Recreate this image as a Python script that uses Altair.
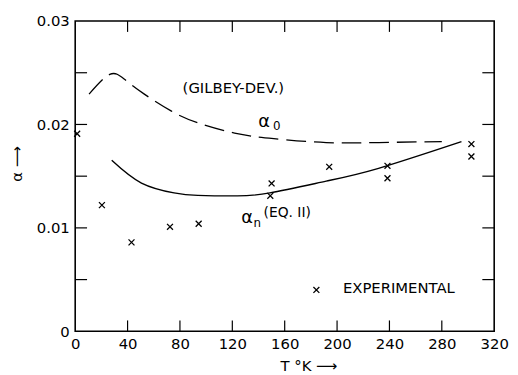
import altair as alt
import pandas as pd

# Dashed curve alpha_0 (Gilbey-Dev.)
a0_T = [10.6, 26.4, 37.7, 52.8, 73.2, 93.6, 123.8, 151.7, 191.7, 231.7, 280]
a0_v = [0.02293, 0.02484, 0.02436, 0.02293, 0.02131, 0.02016, 0.01911, 0.01863, 0.01825, 0.01825, 0.01834]

# Solid curve alpha_n (Eq. II)
an_T = [27.9, 50.6, 75.5, 93.6, 123.8, 148.7, 191.7, 231.7, 295]
an_v = [0.01653, 0.01433, 0.01338, 0.01314, 0.01309, 0.01338, 0.01452, 0.01576, 0.01834]

# Experimental points
ex_T = [1.5, 20.4, 43, 72.4, 94.3, 150, 149, 194, 238.5, 238.5, 302.6, 302.6]
ex_v = [0.0191, 0.0122, 0.0086, 0.0101, 0.0104, 0.0143, 0.0131, 0.0159, 0.0160, 0.0148, 0.0181, 0.0169]

# Legend sample marker
leg_T = [184.2]
leg_v = [0.0040]

# Annotation texts
ann_text = ["(GILBEY-DEV.)", "α", "0", "α", "n", "(EQ. II)", "EXPERIMENTAL"]
ann_T = [120.8, 144.2, 154.0, 131.3, 139.0, 161.9, 247.2]
ann_v = [0.0235, 0.02025, 0.01985, 0.01099, 0.01050, 0.01146, 0.0042]
ann_size = [15, 18, 12, 18, 12, 14, 15]

x_ticks = [40, 80, 120, 160, 200, 240, 280]
y_ticks = [0.005, 0.01, 0.015, 0.02, 0.025]
x_labels = [0, 40, 80, 120, 160, 200, 240, 280, 320]
y_labels = [0, 0.01, 0.02, 0.03]

W, H = 424, 314
FONT = "DejaVu Sans"

xs = alt.Scale(domain=[0, 320], nice=False, zero=False)
ys = alt.Scale(domain=[0, 0.03], nice=False, zero=False)

a0 = pd.DataFrame({"T": a0_T, "a": a0_v})
an = pd.DataFrame({"T": an_T, "a": an_v})
ex = pd.DataFrame({"T": ex_T, "a": ex_v})
leg = pd.DataFrame({"T": leg_T, "a": leg_v})
ann = pd.DataFrame({"T": ann_T, "a": ann_v, "t": ann_text, "s": ann_size})
xt = pd.DataFrame({"T": x_ticks})
yt = pd.DataFrame({"a": y_ticks})

X = alt.X("T:Q", scale=xs, axis=alt.Axis(
    values=x_labels, ticks=False, domain=False, grid=False, labelFontSize=15,
    labelFont=FONT, labelColor="black", labelPadding=5, labelFlush=False,
    title="T °K ⟶", titleFont=FONT, titleFontSize=15, titleFontWeight="normal",
    titleColor="black", titleX=236, titleY=35, titleBaseline="middle", titleAlign="center"))
Y = alt.Y("a:Q", scale=ys, axis=alt.Axis(
    values=y_labels, ticks=False, domain=False, grid=False, labelFontSize=15,
    labelFont=FONT, labelColor="black", labelPadding=6, labelFlush=False,
    labelExpr="datum.value == 0 ? '0' : format(datum.value, '.2f')",
    title="α ⟶", titleFont=FONT, titleFontSize=15, titleFontWeight="normal",
    titleColor="black", titleX=-59, titleY=144, titleBaseline="middle",
    titleAlign="center", titleAngle=-90))

base_line_dash = alt.Chart(a0).mark_line(
    color="black", strokeWidth=1.3, strokeDash=[20, 8], interpolate="natural"
).encode(x=X, y=Y)

base_line_solid = alt.Chart(an).mark_line(
    color="black", strokeWidth=1.4, interpolate="natural"
).encode(x="T:Q", y="a:Q")

xshape = "M-1,-1L1,1M-1,1L1,-1"
pts = alt.Chart(ex).mark_point(
    shape=xshape, size=36, color="black", strokeWidth=1.3, filled=False, opacity=1
).encode(x="T:Q", y="a:Q")
legpt = alt.Chart(leg).mark_point(
    shape=xshape, size=36, color="black", strokeWidth=1.3, filled=False, opacity=1
).encode(x="T:Q", y="a:Q")

texts = alt.Chart(ann).mark_text(
    color="black", font=FONT, align="center", baseline="middle"
).encode(x="T:Q", y="a:Q", text="t:N", size=alt.Size("s:Q", scale=None, legend=None))

tick_bot = alt.Chart(xt).mark_rule(color="black", strokeWidth=1.2).encode(
    x="T:Q", y=alt.value(H), y2=alt.value(H - 11))
tick_top = alt.Chart(xt).mark_rule(color="black", strokeWidth=1.2).encode(
    x="T:Q", y=alt.value(0), y2=alt.value(11))
tick_left = alt.Chart(yt).mark_rule(color="black", strokeWidth=1.2).encode(
    y="a:Q", x=alt.value(0), x2=alt.value(12))
tick_right = alt.Chart(yt).mark_rule(color="black", strokeWidth=1.2).encode(
    y="a:Q", x=alt.value(W), x2=alt.value(W - 12))

chart = alt.layer(
    base_line_dash, base_line_solid, pts, legpt, texts,
    tick_bot, tick_top, tick_left, tick_right
).properties(
    width=W, height=H,
    autosize=alt.AutoSizeParams(type="none"),
    padding={"left": 68, "top": 11, "right": 16, "bottom": 40},
    background="white",
).configure_view(stroke="black", strokeWidth=1.6)

chart.save("out.html", embed_options={"renderer": "svg", "actions": False})
